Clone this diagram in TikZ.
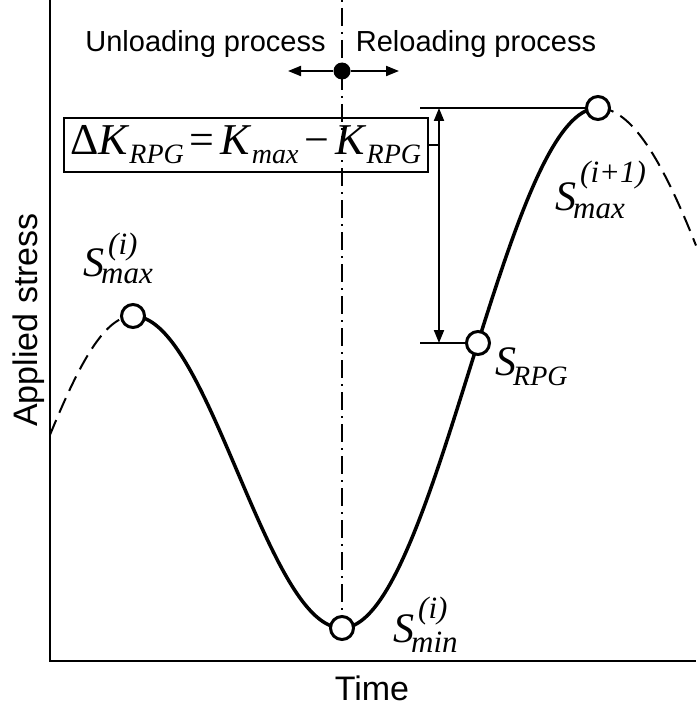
\documentclass[tikz,border=0pt]{standalone}
\usepackage{fontspec}
\setmainfont{Liberation Serif}
\newfontfamily\arialf{Liberation Sans}
\usetikzlibrary{arrows.meta}
\newcommand\bigT[1]{{\fontsize{42}{42}\selectfont #1}}
\newcommand\boxT[1]{{\fontsize{44}{44}\selectfont #1}}
\newcommand\smallT[1]{{\fontsize{28}{28}\selectfont\itshape #1}}
\newcommand\midT[1]{{\fontsize{31}{31}\selectfont\itshape #1}}
% main, sup, sub, sup raise, sub drop
\newcommand\SL[5]{\bigT{\itshape #1}\kern-3pt\rlap{\raisebox{#4}{\kern7pt\midT{#2}}}\raisebox{-#5}{\midT{#3}}}
\begin{document}
\begin{tikzpicture}[x=1pt,y=-1pt,
  pt/.style={circle, draw, fill=white, line width=3pt, minimum size=23pt, inner sep=0pt},
  sans/.style={font=\arialf\fontsize{29}{32}\selectfont, inner sep=0pt},
  axlabel/.style={font=\arialf\fontsize{34}{36}\selectfont, inner sep=0pt},
  slabel/.style={inner sep=0pt, anchor=base west},
  tip/.style={-{Triangle[length=13pt,width=10pt]}},
  solidcurve/.style={line width=3.5pt},
  dashcurve/.style={line width=2pt, dash pattern=on 16pt off 8pt},
  thin line/.style={line width=2pt}]
\useasboundingbox (0,0) rectangle (696,706);

% axes
\coordinate (ytop) at (50,0);
\coordinate (orig) at (50,661);
\coordinate (xend) at (696,661);
\draw[line width=2pt] (ytop) -- (orig) -- (xend);

% curves
\draw[dashcurve] plot[domain=50:133, samples=40] (\x, {316+156*(1-cos(((133-\x)/196)*180))});
\draw[solidcurve] plot[domain=133:342, samples=80] (\x, {316+156*(1-cos(((\x-133)/209)*180))});
\draw[solidcurve] plot[domain=342:598, samples=80] (\x, {628-260*(1-cos(((\x-342)/256)*180))});
\draw[dashcurve] plot[domain=598:696, samples=40] (\x, {108+260*(1-cos(((\x-598)/285)*180))});

% points
\node[pt] (c1) at (133,316) {};
\node[pt] (c2) at (342,628) {};
\node[pt] (c3) at (478,343) {};
\node[pt] (c4) at (598,108) {};

% vertical dash-dot line
\coordinate (vtop) at (342,0);
\draw[line width=1.5pt, dash pattern=on 2pt off 6pt on 18pt off 6pt] (vtop) -- (c2.north);

% dot and arrows
\node[circle, fill=black, minimum size=17pt, inner sep=0pt] (dot) at (342,71) {};
\coordinate (la) at (288,71);
\coordinate (ra) at (399,71);
\draw[thin line, tip] (dot) -- (la);
\draw[thin line, tip] (dot) -- (ra);

% process labels
\node[sans, anchor=base] (unl) at (205.5,52) {Unloading process};
\node[sans, anchor=base] (rel) at (476,52) {Reloading process};

% Delta K box
\node[draw, line width=2pt, minimum width=364pt, minimum height=54pt, inner sep=0pt] (box) at (246,145)
  {\boxT{Δ\kern-1pt\textit{K}}\raisebox{-9pt}{\smallT{RPG}}\kern6pt\boxT{=}\kern6pt\boxT{\textit{K}}\raisebox{-9pt}{\smallT{max}}\kern6pt\boxT{−}\kern6pt\boxT{\textit{K}}\raisebox{-9pt}{\smallT{RPG}}};

% dimension lines
\coordinate (h1) at (420,108);
\coordinate (h2) at (420,343);
\coordinate (va) at (439,108);
\coordinate (vb) at (439,343);
\draw[thin line] (h1) -- (c4.west);
\draw[thin line] (h2) -- (c3.west);
\draw[thin line, {Triangle[length=13pt,width=10pt]}-{Triangle[length=13pt,width=10pt]}] (va) -- (vb);
\draw[thin line] (box.east) -- (box.east -| va);

% S labels
\node[slabel] (l1) at (83,276) {\SL{S}{(i)}{max}{22pt}{7pt}};
\node[slabel] (l2) at (393,642) {\SL{S}{(i)}{min}{24pt}{10pt}};
\node[slabel] (l3) at (495,375) {\bigT{\itshape S}\kern-3pt\raisebox{-10pt}{\smallT{RPG}}};
\node[slabel] (l4) at (555,210) {\SL{S}{(i+1)}{max}{28pt}{8pt}};

% axis labels
\node[axlabel, rotate=90, anchor=base] (ylab) at (37,320) {Applied stress};
\node[axlabel, anchor=base] (xlab) at (372,700) {Time};
\end{tikzpicture}
\end{document}
